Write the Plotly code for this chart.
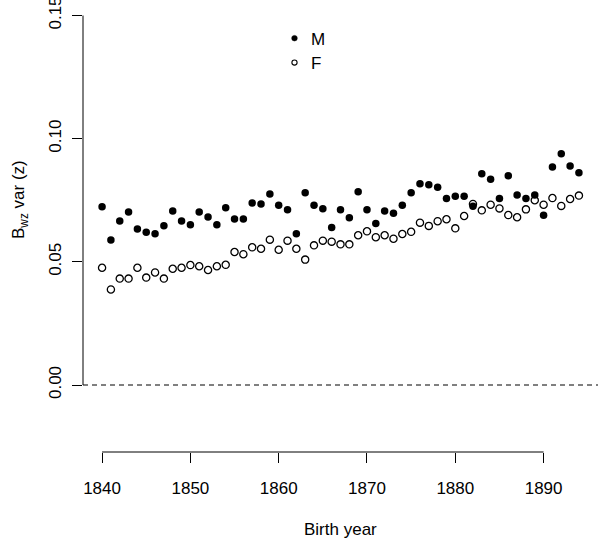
import plotly.graph_objects as go

years = list(range(1840, 1895))

male = [0.0724, 0.0589, 0.0666, 0.0702, 0.0633, 0.0620, 0.0614, 0.0647, 0.0706, 0.0666,
        0.0651, 0.0702, 0.0682, 0.0651, 0.0720, 0.0674, 0.0674, 0.0739, 0.0735, 0.0775,
        0.0730, 0.0711, 0.0614, 0.0780, 0.0730, 0.0716, 0.0639, 0.0711, 0.0679, 0.0785,
        0.0711, 0.0656, 0.0706, 0.0697, 0.0730, 0.0780, 0.0817, 0.0813, 0.0803, 0.0757,
        0.0766, 0.0766, 0.0726, 0.0858, 0.0835, 0.0757, 0.0849, 0.0771, 0.0757, 0.0771,
        0.0689, 0.0885, 0.0939, 0.0889, 0.0862]

female = [0.0476, 0.0388, 0.0432, 0.0432, 0.0476, 0.0436, 0.0457, 0.0432, 0.0472, 0.0476,
          0.0487, 0.0482, 0.0467, 0.0482, 0.0488, 0.0540, 0.0531, 0.0559, 0.0553, 0.0590,
          0.0549, 0.0586, 0.0553, 0.0509, 0.0567, 0.0586, 0.0582, 0.0571, 0.0571, 0.0608,
          0.0624, 0.0600, 0.0608, 0.0594, 0.0613, 0.0622, 0.0659, 0.0646, 0.0665, 0.0673,
          0.0636, 0.0686, 0.0735, 0.0709, 0.0732, 0.0717, 0.0690, 0.0681, 0.0713, 0.0750,
          0.0732, 0.0759, 0.0727, 0.0755, 0.0769]

x_ticks = [1840, 1850, 1860, 1870, 1880, 1890]
y_ticks = [0.00, 0.05, 0.10, 0.15]
y_tick_labels = ["0.00", "0.05", "0.10", "0.15"]

FONT = "Liberation Sans, Arial, sans-serif"

fig = go.Figure()
fig.add_trace(go.Scatter(x=years, y=female, mode="markers", name="F",
                         marker=dict(symbol="circle-open", size=7.2, color="black",
                                     line=dict(width=1.3, color="black")),
                         showlegend=False))
fig.add_trace(go.Scatter(x=years, y=male, mode="markers", name="M",
                         marker=dict(symbol="circle", size=7.5, color="black",
                                     line=dict(width=0)),
                         showlegend=False))

# dashed zero line
fig.add_shape(type="line", xref="paper", x0=0, x1=1, yref="y", y0=0, y1=0,
              line=dict(color="black", width=1, dash="5px,4px"))
# y axis line (from first to last tick)
fig.add_shape(type="line", xref="paper", x0=0, x1=0, yref="y", y0=0, y1=0.15,
              line=dict(color="black", width=1))
# x axis line (from first to last tick)
fig.add_shape(type="line", xref="x", x0=1840, x1=1890, yref="paper", y0=0, y1=0,
              line=dict(color="black", width=1))

# legend (manual)
leg_x = 1861.79
fig.add_shape(type="circle", xref="x", yref="y", xsizemode="pixel", ysizemode="pixel",
              xanchor=leg_x, yanchor=0.1408, x0=-2.8, x1=2.8, y0=-2.8, y1=2.8,
              fillcolor="black", line=dict(color="black", width=0.5))
fig.add_shape(type="circle", xref="x", yref="y", xsizemode="pixel", ysizemode="pixel",
              xanchor=leg_x, yanchor=0.1309, x0=-2.6, x1=2.6, y0=-2.6, y1=2.6,
              fillcolor="white", line=dict(color="black", width=1.1))
fig.add_annotation(x=leg_x, y=0.1408, xref="x", yref="y", text="M", showarrow=False,
                   xanchor="left", yanchor="middle", xshift=15, yshift=-1,
                   font=dict(family=FONT, size=17, color="black"))
fig.add_annotation(x=leg_x, y=0.1309, xref="x", yref="y", text="F", showarrow=False,
                   xanchor="left", yanchor="middle", xshift=15, yshift=-1,
                   font=dict(family=FONT, size=17, color="black"))

# axis titles
fig.add_annotation(x=0, y=0.0751, xref="paper", yref="y", text="B<sub>wz</sub> var (z)",
                   showarrow=False, textangle=-90, xanchor="center", yanchor="middle",
                   xshift=-63, font=dict(family=FONT, size=17, color="black"))
fig.add_annotation(x=0.5, y=0, xref="paper", yref="paper", text="Birth year",
                   showarrow=False, xanchor="center", yanchor="middle", yshift=-77,
                   font=dict(family=FONT, size=17, color="black"))

fig.update_layout(
    width=600, height=540,
    margin=dict(l=83, r=2, t=0, b=88, autoexpand=False),
    paper_bgcolor="white", plot_bgcolor="white",
    font=dict(family=FONT, size=17, color="black"),
    showlegend=False,
)
fig.update_xaxes(range=[1837.84, 1896.16], tickvals=x_ticks, ticktext=[str(v) for v in x_ticks],
                 ticks="outside", ticklen=10, tickwidth=1, tickcolor="black",
                 showline=False, showgrid=False, zeroline=False, automargin=False,
                 ticklabeloverflow="allow",
                 ticklabelstandoff=11, tickfont=dict(size=17, color="black"))
fig.update_yaxes(range=[-0.0272, 0.1563], tickvals=y_ticks, ticktext=y_tick_labels,
                 ticks="outside", ticklen=10, tickwidth=1, tickcolor="black",
                 showline=False, showgrid=False, zeroline=False, tickangle=-90,
                 automargin=False, ticklabeloverflow="allow",
                 ticklabelstandoff=4, tickfont=dict(size=17, color="black"))

fig.write_html("out.html", config={"displayModeBar": False},
               post_script="document.body.style.margin='0';document.body.style.overflow='hidden';")
